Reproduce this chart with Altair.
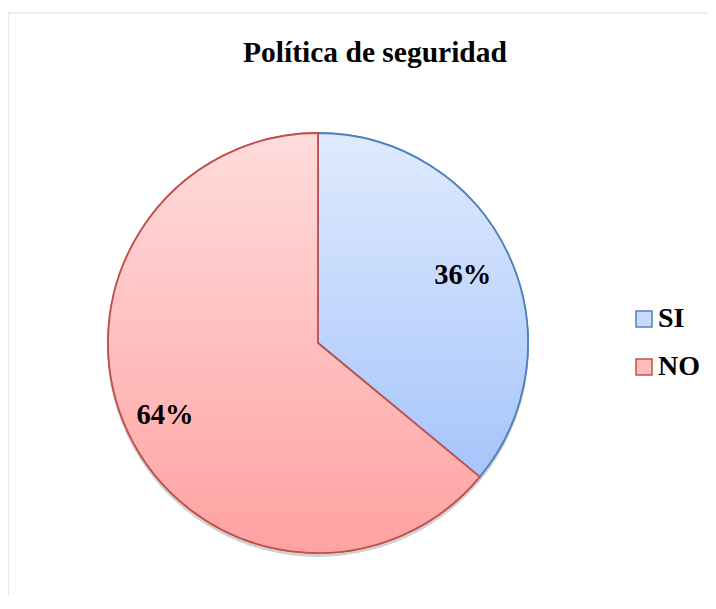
import altair as alt
import pandas as pd

categories = ["SI", "NO"]
values = [36, 64]
order_idx = [1, 2]

title_text = "Política de seguridad"

df = pd.DataFrame({"cat": categories, "value": values, "idx": order_idx})

W, H = 700, 588
CX, CY, R = 310, 335, 210
FONT = "Liberation Serif"

grad_si = {"gradient": "linear", "x1": 0, "y1": 0, "x2": 0, "y2": 1,
           "stops": [{"offset": 0, "color": "#e0eafd"}, {"offset": 1, "color": "#a6c5fb"}]}
grad_no = {"gradient": "linear", "x1": 0, "y1": 0, "x2": 0, "y2": 1,
           "stops": [{"offset": 0, "color": "#ffdcdc"}, {"offset": 1, "color": "#ffa2a2"}]}

base = alt.Chart(df).transform_calculate(label="datum.value + '%'")

theta = alt.Theta("value:Q", stack=True, scale=alt.Scale(domain=[0, 100]))
order = alt.Order("idx:Q")

shadow = base.mark_arc(radius=R + 1, fill="#000000", opacity=0.18).encode(
    theta=theta, order=order, x=alt.value(CX), y=alt.value(CY + 3)
)

legend_def = alt.Legend(title=None)
solid = base.mark_arc(radius=R, strokeWidth=1.5).encode(
    theta=theta, order=order, x=alt.value(CX), y=alt.value(CY),
    fill=alt.Fill("cat:N", scale=alt.Scale(domain=categories, range=["#c9dafc", "#ffbdbd"]), legend=legend_def),
    stroke=alt.Stroke("cat:N", scale=alt.Scale(domain=categories, range=["#4f81bd", "#c0504d"]), legend=legend_def),
)

grad = base.mark_arc(radius=R, strokeWidth=1.8).encode(
    theta=theta, order=order, x=alt.value(CX), y=alt.value(CY),
    fill=alt.condition("datum.cat == 'SI'", alt.value(grad_si), alt.value(grad_no)),
    stroke=alt.condition("datum.cat == 'SI'", alt.value("#4f81bd"), alt.value("#c0504d")),
)

labels = base.transform_window(
    cum="sum(value)", sort=[alt.SortField("idx")], frame=[None, 0]
).transform_calculate(
    mid="datum.cum - datum.value / 2", lr="datum.cat == 'SI' ? 160 : 169"
).mark_text(
    font=FONT, fontSize=28.5, fontWeight="bold", color="#000000"
).encode(
    theta=alt.Theta("mid:Q", stack=None, scale=alt.Scale(domain=[0, 100])),
    x=alt.value(CX), y=alt.value(CY), text="label:N",
    radius=alt.Radius("lr:Q", scale=None, stack=None),
)

title = alt.Chart(pd.DataFrame({"t": [title_text]})).mark_text(
    font=FONT, fontSize=29.5, fontWeight="bold", color="#000000", baseline="alphabetic", align="center"
).encode(text="t:N", x=alt.value(367), y=alt.value(54))

border = alt.Chart(pd.DataFrame({"k": [0]})).mark_rule(color="#d9d9d9", strokeWidth=1.2).encode(
    x=alt.value(0), y=alt.value(5), y2=alt.value(H)
)
border_top = alt.Chart(pd.DataFrame({"k": [0]})).mark_rule(color="#d9d9d9", strokeWidth=1.2).encode(
    x=alt.value(0), x2=alt.value(W), y=alt.value(5)
)

chart = alt.layer(border, border_top, shadow, solid, grad, labels, title).properties(
    width=W, height=H, autosize=alt.AutoSizeParams(type="none"), padding=0
).configure_view(stroke=None).configure_legend(
    orient="none", legendX=622, legendY=297, symbolType="square", symbolSize=256,
    symbolStrokeWidth=1.5, labelFont=FONT, labelFontSize=28, labelFontWeight="bold",
    labelColor="#000000", rowPadding=20, labelOffset=0, padding=0, symbolOpacity=1
)

chart.save("out.html", embed_options={"renderer": "svg", "actions": False})
